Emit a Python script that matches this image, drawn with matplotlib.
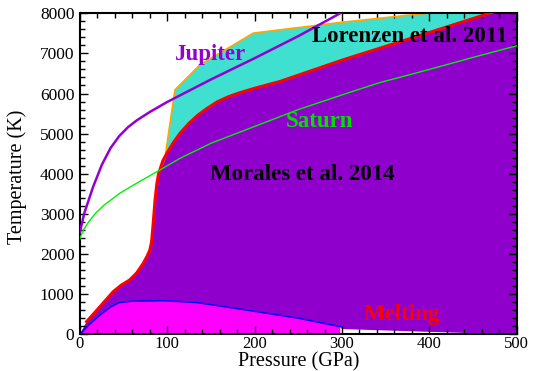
import numpy as np
import matplotlib
matplotlib.use("Agg")
import matplotlib.pyplot as plt
from matplotlib.ticker import MultipleLocator

plt.rcParams["font.family"] = ["Liberation Serif", "DejaVu Serif"]

# Morales et al. 2014 boundary (red)
morales_p = [7.6, 23, 38, 47, 57, 65, 72.5, 77, 80, 82, 84, 86, 88, 90, 95,
             100, 107, 115, 125, 135, 145, 157, 170, 183, 200, 229, 300, 400,
             469, 500]
morales_t = [315, 690, 1060, 1220, 1355, 1530, 1770, 1950, 2100, 2300, 2800,
             3350, 3750, 4000, 4330, 4530, 4780, 5020, 5260, 5460, 5620, 5790,
             5920, 6020, 6130, 6300, 6830, 7520, 8000, 8210]

# Lorenzen et al. 2011 upper boundary (orange)
lorenzen_p = [90, 97.3, 108.7, 110.6, 137.4, 198.5, 297.7, 397, 500]
lorenzen_t = [4000, 4390, 6090, 6130, 6715, 7505, 7770, 8000, 8240]

# melting line (blue)
melt_p = [0, 10, 23, 35, 45, 60, 95, 134, 190, 250, 298]
melt_t = [0, 230, 480, 680, 790, 825, 838, 790, 606, 400, 190]
# lower edge of the Morales region past the melting line
tail_p = [298, 300, 400, 480, 500]
tail_t = [190, 130, 60, 10, 0]

# planetary isentropes
jupiter_p = [0, 5, 15, 25, 35, 45, 55, 65, 80, 100, 150, 200, 250, 298]
jupiter_t = [2550, 3020, 3670, 4220, 4640, 4940, 5160, 5330, 5540, 5790, 6350,
             6880, 7430, 8000]
saturn_p = [0, 4, 10, 18, 28, 46, 65, 92, 115, 150, 206, 250, 309, 343, 400,
            450, 500]
saturn_t = [2390, 2600, 2800, 3020, 3225, 3520, 3765, 4100, 4390, 4760, 5230,
            5600, 6030, 6270, 6600, 6900, 7190]

PURPLE = "#9400d3"

fig = plt.figure(figsize=(5.33, 3.71), dpi=100)
ax = fig.add_axes([0.150, 0.099, 0.8194, 0.8653])

# Morales region: red curve on top, melting line + tail at the bottom
top_edge_p = morales_p + [500]
top_edge_t = morales_t + [0]
bottom_p = melt_p + tail_p[1:]
bottom_t = melt_t + tail_t[1:]
ax.fill(top_edge_p + bottom_p[::-1], top_edge_t + bottom_t[::-1],
        color="#8f00cc", lw=0, zorder=1)

# Lorenzen region between orange and red
i0 = morales_p.index(90)
ax.fill(lorenzen_p + morales_p[i0:][::-1], lorenzen_t + morales_t[i0:][::-1],
        color="#40e0d0", lw=0, zorder=1)

# solid below melting
ax.fill(melt_p + [298], melt_t + [0], color="#ff00ff", lw=0, zorder=1)

ax.plot(lorenzen_p, lorenzen_t, color="#ffa500", lw=1.2, zorder=2)
ax.plot(morales_p, morales_t, color="red", lw=2.2, zorder=3)
ax.plot(melt_p, melt_t, color="blue", lw=1.1, zorder=3)
ax.plot(saturn_p, saturn_t, color="#00f000", lw=1.0, zorder=4)
ax.plot(jupiter_p, jupiter_t, color=PURPLE, lw=1.8, zorder=4)

bold = dict(fontweight="bold", ha="center", va="baseline", fontsize=16.5, zorder=5)
ax.text(150, 6823, "Jupiter", color=PURPLE, **bold)
ax.text(377, 7272, "Lorenzen et al. 2011", color="black", **bold)
ax.text(274, 5177, "Saturn", color="#00e000", **bold)
ax.text(254, 3848, "Morales et al. 2014", color="black", **bold)
ax.text(368, 357, "Melting", color="red", **bold)

ax.set_xlim(0, 500)
ax.set_ylim(0, 8000)
ax.xaxis.set_major_locator(MultipleLocator(100))
ax.xaxis.set_minor_locator(MultipleLocator(20))
ax.yaxis.set_major_locator(MultipleLocator(1000))
ax.yaxis.set_minor_locator(MultipleLocator(200))
ax.tick_params(which="both", direction="in", top=True, right=True,
               labelsize=12.5, width=1.0)
ax.tick_params(which="major", length=6, pad=4)
ax.tick_params(axis="x", which="major", labelsize=12, pad=1.5)
ax.tick_params(which="minor", length=3.5)
for sp in ax.spines.values():
    sp.set_linewidth(1.5)

ax.set_xlabel("Pressure (GPa)", fontsize=14.5)
ax.set_ylabel("Temperature (K)", fontsize=14.5)
ax.xaxis.set_label_coords(0.5, -0.055)
ax.yaxis.set_label_coords(-0.122, 0.49)

fig.savefig("out.png", dpi=100)
